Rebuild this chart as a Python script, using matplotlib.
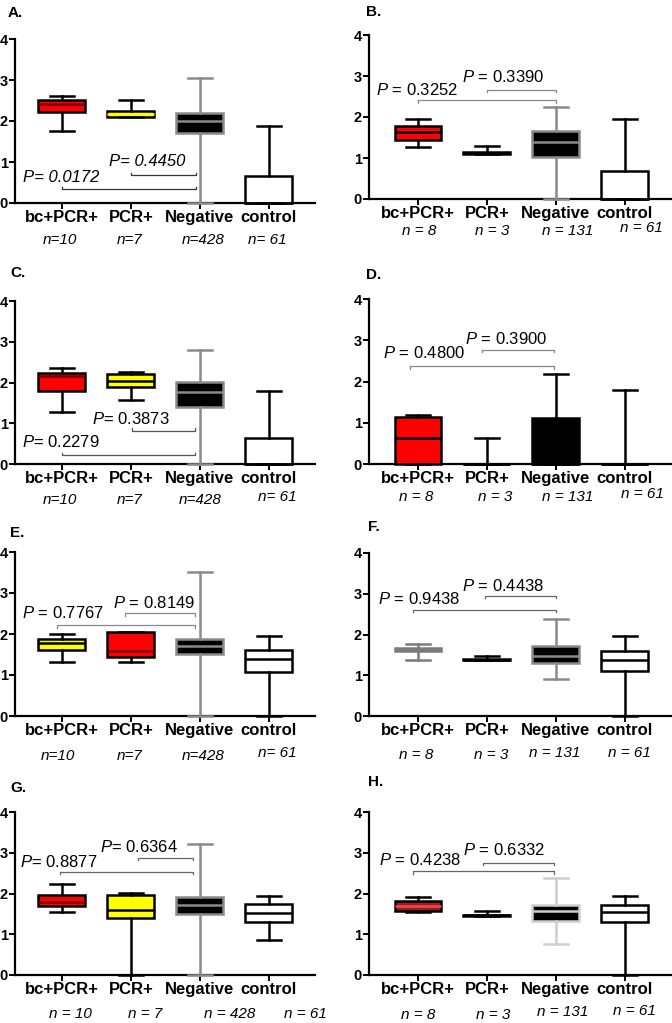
import matplotlib
matplotlib.use("Agg")
import matplotlib.pyplot as plt

plt.rcParams['font.family'] = ['Liberation Sans', 'DejaVu Sans']
plt.rcParams['mathtext.fontset'] = 'custom'
plt.rcParams['mathtext.it'] = 'Liberation Sans:italic'
plt.rcParams['mathtext.rm'] = 'Liberation Sans'

# ---------------- data ----------------
categories = ["bc+PCR+", "PCR+", "Negative", "control"]
yticks = [0, 1, 2, 3, 4]

n_labels_AC = ["n=10", "n=7", "n=428", "n= 61"]
n_labels_BDFH = ["n = 8", "n = 3", "n = 131", "n = 61"]
n_labels_G = ["n = 10", "n = 7", "n = 428", "n = 61"]

# five-number summaries per group: [whisker low, Q1, median, Q3, whisker high]
stats_A = [[1.76, 2.21, 2.42, 2.52, 2.62], [2.10, 2.10, 2.17, 2.24, 2.52],
           [0.00, 1.70, 1.99, 2.19, 3.04], [0.00, 0.00, 0.00, 0.67, 1.89]]
stats_B = [[1.28, 1.44, 1.63, 1.78, 1.94], [1.10, 1.10, 1.12, 1.14, 1.29],
           [0.00, 1.03, 1.40, 1.66, 2.24], [0.00, 0.00, 0.00, 0.69, 1.94]]
stats_C = [[1.28, 1.80, 2.16, 2.23, 2.35], [1.57, 1.89, 2.04, 2.21, 2.26],
           [0.00, 1.40, 1.77, 2.01, 2.79], [0.00, 0.00, 0.00, 0.64, 1.79]]
stats_D = [[0.00, 0.00, 0.62, 1.14, 1.18], [0.00, 0.00, 0.00, 0.00, 0.62],
           [0.00, 0.00, 0.00, 1.12, 2.19], [0.00, 0.00, 0.00, 0.00, 1.79]]
stats_E = [[1.32, 1.62, 1.79, 1.89, 1.99], [1.31, 1.44, 1.59, 2.04, 2.06],
           [0.00, 1.51, 1.70, 1.89, 3.51], [0.00, 1.08, 1.38, 1.61, 1.95]]
stats_F = [[1.37, 1.59, 1.63, 1.68, 1.76], [1.37, 1.37, 1.38, 1.40, 1.48],
           [0.90, 1.29, 1.48, 1.71, 2.37], [0.00, 1.10, 1.37, 1.60, 1.96]]
stats_G = [[1.55, 1.70, 1.80, 1.96, 2.24], [0.00, 1.39, 1.59, 1.96, 2.02],
           [0.00, 1.49, 1.73, 1.92, 3.21], [0.86, 1.31, 1.53, 1.74, 1.93]]
stats_H = [[1.54, 1.58, 1.69, 1.81, 1.92], [1.46, 1.46, 1.47, 1.48, 1.58],
           [0.75, 1.33, 1.58, 1.72, 2.38], [0.00, 1.31, 1.55, 1.72, 1.94]]

# p-value comparisons: (first group, second group, bracket height, label)
pvals_A = [(1, 2.95, 0.34, "P= 0.0172"), (2, 2.95, 0.68, "P= 0.4450")]
pvals_B = [(1, 3, 2.41, "0.3252"), (2, 3, 2.66, "0.3390")]
pvals_C = [(1, 2.93, 0.22, "0.2279"), (2.02, 2.93, 0.82, "0.3873")]
pvals_D = [(0.88, 2.97, 2.37, "0.4800"), (1.93, 2.97, 2.77, "0.3900")]
pvals_E = [(0.93, 2.93, 2.21, "0.7767"), (1.91, 2.93, 2.51, "0.8149")]
pvals_F = [(0.93, 3, 2.61, "0.9438"), (1.97, 3, 2.95, "0.4438")]
pvals_G = [(0.97, 2.9, 2.53, "0.8877"), (2.1, 2.9, 2.88, "0.6364")]
pvals_H = [(0.93, 2.97, 2.54, "0.4238"), (1.94, 2.97, 2.75, "0.6332")]

# ---------------- styles ----------------
GRAY = '#8a8a8a'
styles = {
    'red':      dict(fill='#ff0000', edge='black', med='#7a0000', whis='black'),
    'red_b':    dict(fill='#ff0000', edge='black', med='black', whis='black'),
    'yellow_a': dict(fill='#ffff00', edge='black', med='#ffff00', whis='black'),
    'yellow':   dict(fill='#ffff00', edge='black', med='black', whis='black'),
    'neg':      dict(fill='black', edge=GRAY, med=GRAY, whis=GRAY),
    'neg_blk':  dict(fill='black', edge='black', med='black', whis='black'),
    'neg_lt':   dict(fill='black', edge='#cfcfcf', med='#cfcfcf', whis='#cfcfcf'),
    'white':    dict(fill='white', edge='black', med='black', whis='black'),
    'gray':     dict(fill='#8a8a8a', edge='#7a7a7a', med='#7a7a7a', whis='#7a7a7a'),
    'darkred':  dict(fill='#a01c1c', edge='black', med='#e05050', whis='black'),
}

panels = [
    dict(letter="A.", stats=stats_A, sty=['red', 'yellow_a', 'neg', 'white'], pv=pvals_A,
         col=0, y4=39, y0=203, let=(8, 13), nl=n_labels_AC,
         npos=[(60, 240), (130, 240), (203, 240), (267, 240)], pvtxt=[(0.44, 0.61), (1.68, 1.0)],
         tick=+1, bcol='#333333', allit=True, sep="= "),
    dict(letter="B.", stats=stats_B, sty=['red_b', 'white', 'neg', 'white'], pv=pvals_B,
         col=1, y4=35, y0=199, let=(366, 12), nl=n_labels_BDFH,
         npos=[(419, 231), (492, 231), (568, 231), (641, 228)], pvtxt=[(0.39, 2.67), (1.64, 2.97)],
         tick=-1, bcol='#888888', allit=False, sep=" = "),
    dict(letter="C.", stats=stats_C, sty=['red', 'yellow', 'neg', 'white'], pv=pvals_C,
         col=0, y4=301, y0=464, let=(10, 273), nl=n_labels_AC,
         npos=[(60, 500), (130, 500), (200, 500), (277, 497)], pvtxt=[(0.42, 0.55), (1.44, 1.11)],
         tick=+1, bcol='#555555', allit=False, sep="= "),
    dict(letter="D.", stats=stats_D, sty=['red_b', 'white', 'neg_blk', 'white'], pv=pvals_D,
         col=1, y4=299, y0=464, let=(366, 275), nl=n_labels_BDFH,
         npos=[(416, 497), (495, 497), (568, 497), (642, 494)], pvtxt=[(0.49, 2.69), (1.68, 3.03)],
         tick=-1, bcol='#888888', allit=False, sep=" = "),
    dict(letter="E.", stats=stats_E, sty=['yellow', 'red', 'neg', 'white'], pv=pvals_E,
         col=0, y4=552, y0=716, let=(10, 533), nl=n_labels_AC,
         npos=[(58, 756), (130, 756), (203, 756), (277, 753)], pvtxt=[(0.42, 2.52), (1.74, 2.75)],
         tick=-1, bcol='#888888', allit=False, sep=" = "),
    dict(letter="F.", stats=stats_F, sty=['gray', 'white', 'neg', 'white'], pv=pvals_F,
         col=1, y4=553, y0=716, let=(368, 527), nl=n_labels_BDFH,
         npos=[(416, 755), (491, 755), (555, 753), (629, 753)], pvtxt=[(0.42, 2.86), (1.64, 3.20)],
         tick=-1, bcol='#666666', allit=False, sep=" = "),
    dict(letter="G.", stats=stats_G, sty=['red', 'yellow', 'neg', 'white'], pv=pvals_G,
         col=0, y4=812, y0=975, let=(10, 788), nl=n_labels_G,
         npos=[(70, 1014), (145, 1014), (230, 1014), (305, 1014)], pvtxt=[(0.39, 2.78), (1.55, 3.14)],
         tick=-1, bcol='#666666', allit=False, sep="= "),
    dict(letter="H.", stats=stats_H, sty=['darkred', 'white', 'neg_lt', 'white'], pv=pvals_H,
         col=1, y4=812, y0=975, let=(368, 782), nl=n_labels_BDFH,
         npos=[(418, 1015), (493, 1015), (563, 1012), (634, 1011)], pvtxt=[(0.43, 2.81), (1.65, 3.07)],
         tick=-1, bcol='#666666', allit=False, sep=" = "),
]

W, H = 672, 1023
fig = plt.figure(figsize=(W / 100, H / 100), dpi=100)

col_left = {0: 15, 1: 369}
col_width = {0: 300, 1: 302}
col_xlim = {0: (0.32, 4.67), 1: (0.29, 4.67)}
LW = 1.8

for p in panels:
    l = col_left[p['col']]
    w = col_width[p['col']]
    ax = fig.add_axes([l / W, 1 - p['y0'] / H, w / W, (p['y0'] - p['y4']) / H])
    bstats = [dict(whislo=s[0], q1=s[1], med=s[2], q3=s[3], whishi=s[4], fliers=[])
              for s in p['stats']]
    art = ax.bxp(bstats, positions=[1, 2, 3, 4], widths=0.68, capwidths=0.35,
                 patch_artist=True, showfliers=False, manage_ticks=False)
    for i, key in enumerate(p['sty']):
        st = styles[key]
        box = art['boxes'][i]
        box.set_facecolor(st['fill'])
        box.set_edgecolor(st['edge'])
        box.set_linewidth(LW)
        box.set_zorder(3)
        box.set_clip_on(False)
        med = art['medians'][i]
        med.set_color(st['med'])
        med.set_linewidth(LW)
        med.set_zorder(4)
        med.set_clip_on(False)
        med.set_solid_capstyle('butt')
        for ln in art['whiskers'][2 * i:2 * i + 2] + art['caps'][2 * i:2 * i + 2]:
            ln.set_color(st['whis'])
            ln.set_linewidth(LW)
            ln.set_zorder(3)
            ln.set_clip_on(False)

    # p-value brackets
    d = 0.06 * p['tick']
    for (x1, x2, yb, lab), (tx, ty) in zip(p['pv'], p['pvtxt']):
        ax.plot([x1, x1, x2, x2], [yb + d, yb, yb, yb + d], color=p['bcol'], lw=0.9,
                zorder=5, clip_on=False)
        if p['allit']:
            ax.text(tx, ty, lab, fontsize=12, style='italic', ha='left', va='center')
        else:
            ax.text(tx, ty, r"$\mathit{P}$" + p['sep'] + lab,
                    fontsize=12, ha='left', va='center')

    ax.set_xlim(*col_xlim[p['col']])
    ax.set_ylim(0, 4)
    ax.set_yticks(yticks)
    ax.set_yticklabels([str(t) for t in yticks], fontsize=10.5, fontweight='bold')
    ax.set_xticks([1, 2, 3, 4])
    ax.set_xticklabels(categories, fontsize=12, fontweight='bold')
    for s in ('top', 'right'):
        ax.spines[s].set_visible(False)
    for s in ('left', 'bottom'):
        ax.spines[s].set_linewidth(1.6)
        ax.spines[s].set_zorder(2)
    ax.tick_params(axis='both', width=1.4, length=4, direction='out')
    ax.tick_params(axis='y', pad=1)
    ax.tick_params(axis='x', pad=1)
    ax.patch.set_alpha(0)

    # panel letter and n labels
    fig.text(p['let'][0] / W, 1 - p['let'][1] / H, p['letter'], fontsize=11,
             fontweight='bold', ha='left', va='center')
    for lab, (xp, yp) in zip(p['nl'], p['npos']):
        fig.text(xp / W, 1 - yp / H, lab, fontsize=11, style='italic', ha='center', va='center')

fig.savefig("out.png", dpi=100)
